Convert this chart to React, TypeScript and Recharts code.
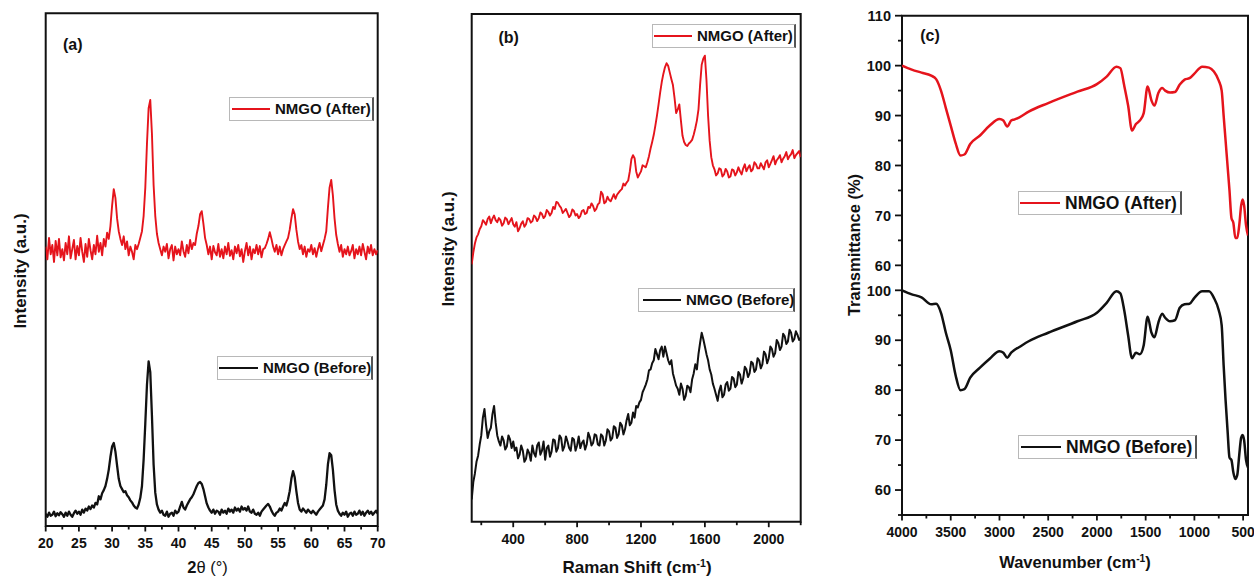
import { LineChart, Line, XAxis, YAxis, ReferenceArea } from 'recharts';

const FONT = '"Liberation Sans", Arial, Helvetica, sans-serif';
const RED = '#e5141c';
const INK = '#111';

// (a) XRD, 2θ from 20° to 70° in 0.25° steps (a.u.)
const xrdStart = 20;
const xrdStep = 0.25;
const xrdAfter = [
  545, 520, 562, 530, 548, 515, 556, 528, 560, 524, 540, 518, 552, 530, 565, 522,
  540, 558, 520, 546, 528, 562, 535, 515, 550, 525, 560, 538, 520, 548, 530, 566,
  535, 552, 528, 560, 545, 572, 560, 585, 625, 657, 640, 600, 575, 560, 548, 565,
  540, 555, 528, 545, 535, 520, 548, 540, 550, 562, 575, 605, 660, 745, 815, 831,
  765, 665, 605, 570, 552, 540, 528, 545, 535, 550, 522, 540, 548, 518, 545, 530,
  540, 528, 555, 536, 525, 548, 532, 558, 540, 552, 548, 570, 585, 608, 614, 590,
  562, 548, 530, 545, 520, 546, 534, 528, 550, 525, 540, 522, 545, 530, 552, 527,
  538, 520, 545, 532, 548, 526, 540, 515, 536, 552, 528, 545, 520, 540, 532, 548,
  530, 546, 524, 540, 542, 550, 560, 573, 560, 545, 535, 548, 530, 545, 528, 540,
  548, 555, 562, 578, 600, 618, 608, 578, 555, 540, 548, 530, 545, 525, 540, 535,
  548, 530, 542, 525, 540, 552, 536, 548, 560, 575, 620, 660, 675, 645, 600, 568,
  550, 535, 548, 525, 540, 530, 545, 528, 536, 548, 522, 540, 530, 545, 528, 550,
  535, 520, 545, 532, 548, 528, 540, 530, 538,
];
const xrdBefore = [
  24, 18, 26, 20, 22, 28, 19, 25, 21, 27, 23, 18, 26, 20, 28, 22,
  18, 25, 30, 24, 28, 22, 32, 26, 34, 30, 38, 33, 40, 36, 45, 42,
  58, 52, 64, 70, 78, 92, 110, 135, 155, 162, 145, 118, 92, 78, 72, 66,
  68, 60, 56, 50, 46, 40, 36, 34, 42, 55, 78, 130, 200, 275, 321, 300,
  215, 120, 65, 42, 32, 26, 30, 22, 20, 28, 18, 24, 26, 20, 30, 25,
  28, 38, 47, 36, 32, 40, 46, 52, 56, 62, 70, 78, 84, 86, 82, 72,
  58, 44, 36, 30, 26, 32, 24, 30, 28, 22, 32, 26, 30, 24, 34, 28,
  32, 26, 36, 30, 34, 28, 38, 32, 35, 30, 38, 28, 26, 32, 24, 22,
  26, 20, 28, 32, 36, 40, 43, 38, 30, 24, 20, 26, 28, 34, 30, 38,
  45, 40, 52, 68, 92, 107, 95, 68, 45, 32, 28, 34, 30, 26, 32, 28,
  25, 30, 26, 22, 28, 32, 36, 40, 52, 80, 120, 142, 138, 110, 70, 42,
  30, 24, 20, 26, 22, 28, 18, 24, 26, 20, 28, 22, 24, 30, 22, 28,
  20, 26, 30, 24, 28, 22, 26, 30, 24,
];
const xrdTicks = [20, 22.5, 25, 27.5, 30, 32.5, 35, 37.5, 40, 42.5, 45, 47.5, 50, 52.5, 55, 57.5, 60, 62.5, 65, 67.5, 70];
const xrdLabels = [20, 25, 30, 35, 40, 45, 50, 55, 60, 65, 70];

// (b) Raman, 140 to 2200 cm-1 in 10 cm-1 steps (a.u.)
const ramanStart = 140;
const ramanStep = 10;
const ramanAfter = [
  507, 530, 548, 560, 566, 576, 582, 594, 590, 585, 596, 601, 588, 597, 603, 594, 590, 598, 594, 583,
  588, 599, 596, 586, 592, 598, 586, 581, 590, 572, 578, 587, 592, 581, 586, 598, 596, 589, 592, 603,
  600, 592, 598, 609, 606, 598, 602, 614, 610, 603, 608, 620, 616, 630, 628, 622, 618, 608, 612, 616,
  608, 600, 604, 615, 612, 603, 606, 598, 602, 612, 614, 606, 608, 620, 618, 627, 622, 612, 616, 625,
  628, 650, 645, 627, 630, 640, 634, 631, 638, 645, 636, 644, 648, 652, 655, 666, 662, 668, 672, 690,
  714, 722, 716, 690, 678, 684, 690, 702, 700, 698, 708, 720, 735, 748, 762, 780, 800, 822, 845, 866,
  882, 895, 903, 898, 885, 872, 860, 835, 805, 812, 822, 790, 760, 748, 742, 740, 745, 748, 752, 762,
  775, 790, 812, 860, 900, 912, 918, 870, 800, 750, 718, 702, 694, 682, 686, 696, 694, 680, 684, 695,
  690, 678, 680, 694, 692, 682, 688, 698, 690, 684, 696, 704, 690, 697, 702, 690, 694, 708, 704, 696,
  696, 706, 700, 694, 708, 712, 698, 705, 712, 720, 704, 712, 716, 722, 708, 715, 720, 728, 714, 720,
  724, 732, 716, 722, 726, 730, 718,
];
const ramanBefore = [
  44, 78, 95, 118, 130, 152, 170, 205, 222, 190, 165, 178, 185, 212, 228, 195, 170, 158, 150, 168,
  160, 142, 148, 170, 162, 145, 158, 140, 146, 125, 132, 150, 140, 118, 124, 142, 135, 120, 150, 135,
  128, 150, 156, 132, 140, 158, 122, 145, 150, 128, 138, 162, 160, 138, 145, 170, 165, 140, 148, 168,
  158, 145, 140, 165, 162, 140, 150, 168, 145, 155, 160, 142, 152, 175, 166, 150, 155, 172, 170, 152,
  150, 172, 168, 150, 160, 182, 178, 160, 165, 188, 185, 165, 172, 195, 190, 172, 182, 200, 212, 190,
  195, 215, 205, 228, 225, 235, 240, 255, 262, 270, 280, 298, 300, 312, 318, 340, 330, 320, 338, 345,
  325, 345, 332, 318, 310, 318, 292, 280, 268, 262, 250, 272, 262, 240, 248, 268, 265, 255, 280, 292,
  310, 300, 330, 352, 372, 360, 345, 330, 318, 300, 290, 272, 262, 250, 238, 258, 268, 245, 250, 270,
  275, 258, 262, 285, 282, 265, 270, 295, 290, 272, 282, 305, 300, 285, 292, 315, 312, 295, 300, 322,
  318, 302, 310, 335, 330, 312, 322, 345, 340, 325, 332, 358, 352, 338, 345, 370, 365, 350, 355, 378,
  372, 355, 360, 375, 368, 358, 362,
];
const ramanTicks = [200, 400, 600, 800, 1000, 1200, 1400, 1600, 1800, 2000, 2200];
const ramanLabels = [400, 800, 1200, 1600, 2000];

// (c) FTIR, transmittance (%)
const wavenumbers = [
  4000, 3900, 3800, 3700, 3650, 3600, 3550, 3500, 3450, 3400,
  3360, 3300, 3200, 3100, 3000, 2960, 2920, 2880, 2850, 2800,
  2700, 2500, 2200, 2000, 1900, 1800, 1760, 1720, 1680, 1640,
  1600, 1560, 1520, 1480, 1440, 1410, 1370, 1330, 1300, 1250,
  1200, 1150, 1100, 1050, 1000, 920, 850, 800, 750, 720,
  700, 680, 660, 640, 620, 600, 580, 560, 540, 520,
  505, 490, 470, 450,
];
const ftirAfter = [
  100, 99.2, 98.6, 98, 97.3, 95, 91.5, 88, 84.5, 82,
  82.2, 84.3, 86, 88, 89.3, 89, 87.8, 89, 89.2, 89.6,
  90.8, 92.5, 94.8, 96.3, 97.8, 99.8, 99.5, 96, 92, 87,
  88.3, 89, 90.5, 95.8, 93, 92, 94.5, 95.5, 95, 94.6,
  94.7, 96.2, 97.2, 97.5, 98.4, 99.8, 99.6, 98.8, 97, 95,
  90, 85, 80, 75, 69.5, 68.5, 65.5, 65.5, 68, 72,
  73.2, 72, 68, 66,
];
const ftirBefore = [
  100, 99.2, 98.6, 97.2, 97.3, 95.5, 91.5, 88, 83, 80,
  80.2, 82.5, 84.5, 86.3, 87.8, 87.5, 86.5, 87.5, 88, 88.6,
  89.8, 91.5, 93.8, 95.5, 97.5, 99.8, 99.4, 96, 91, 86.4,
  87.5, 87.2, 89, 94.7, 91.5, 90.6, 93.5, 95.3, 94.5, 93.8,
  94, 96.5, 97.2, 97.3, 98.5, 99.8, 99.8, 98.5, 96, 93,
  85, 78, 72, 66.5, 66, 63.5, 62.2, 63, 67, 70.5,
  71, 70, 66, 64.5,
];
// the "after" trace sits on a second, stacked 60-110 scale
const FTIR_OFFSET = 45;
const ftirXTicks = [4000, 3750, 3500, 3250, 3000, 2750, 2500, 2250, 2000, 1750, 1500, 1250, 1000, 750, 500];
const ftirXLabels = [4000, 3500, 3000, 2500, 2000, 1500, 1000, 500];
const ftirYTicks = [55, 60, 65, 70, 75, 80, 85, 90, 95, 100, 105, 110, 115, 120, 125, 130, 135, 140, 145, 150, 155];

const xrdData = xrdAfter.map((v, i) => ({ x: xrdStart + i * xrdStep, after: v, before: xrdBefore[i] }));
const ramanData = ramanAfter.map((v, i) => ({ x: ramanStart + i * ramanStep, after: v, before: ramanBefore[i] }));
const ftirData = wavenumbers.map((w, i) => ({ x: w, after: ftirAfter[i] + FTIR_OFFSET, before: ftirBefore[i] }));

const bottomTick = (labels: number[], fontSize: number, gap: number) => (props: any) => {
  const { x, y, payload } = props;
  const major = labels.includes(payload.value);
  return (
    <g>
      <line x1={x} x2={x} y1={y} y2={y + (major ? 5.5 : 3.5)} stroke={INK} strokeWidth={1.8} />
      {major && (
        <text x={x} y={y + gap} textAnchor="middle" fontFamily={FONT} fontSize={fontSize} fontWeight={700} fill={INK}>
          {payload.value}
        </text>
      )}
    </g>
  );
};

const ftirLeftTick = (props: any) => {
  const { x, y, payload } = props;
  const shown = payload.value > 102 ? payload.value - FTIR_OFFSET : payload.value;
  const major = shown % 10 === 0;
  return (
    <g>
      <line x1={x - (major ? 7 : 4)} x2={x} y1={y} y2={y} stroke={INK} strokeWidth={1.8} />
      {major && (
        <text x={x - 11} y={y} dy="0.36em" textAnchor="end" fontFamily={FONT} fontSize={14.5} fontWeight={700} fill={INK}>
          {shown}
        </text>
      )}
    </g>
  );
};

const Caption = ({ x, y, size, rotate, children }: any) => (
  <div
    style={{
      position: 'absolute',
      left: x,
      top: y,
      transform: `translate(-50%, -50%)${rotate ? ' rotate(-90deg)' : ''}`,
      whiteSpace: 'nowrap',
      fontFamily: FONT,
      fontSize: size,
      fontWeight: 700,
      lineHeight: 1,
      color: INK,
    }}
  >
    {children}
  </div>
);

const Sup = ({ children }: any) => (
  <span style={{ fontSize: '0.62em', position: 'relative', top: '-0.55em' }}>{children}</span>
);

const LegendBox = ({ left, top, width, color, lineLen, lineAt, size, label }: any) => (
  <div
    style={{
      position: 'absolute',
      left,
      top,
      width,
      height: 24,
      boxSizing: 'border-box',
      border: '1px solid #b8b8b8',
      borderRight: '2px solid #555',
      background: '#fff',
    }}
  >
    <div style={{ position: 'absolute', left: lineAt, top: 10, width: lineLen, height: 2.4, background: color }} />
    <div
      style={{
        position: 'absolute',
        left: lineAt + lineLen + 5,
        top: 0,
        lineHeight: '22px',
        fontFamily: FONT,
        fontSize: size,
        fontWeight: 700,
        color: INK,
        whiteSpace: 'nowrap',
      }}
    >
      {label}
    </div>
  </div>
);

export default function App() {
  return (
    <div style={{ position: 'absolute', left: 0, top: 0, width: 1254, height: 580, background: '#fff', overflow: 'hidden' }}>
      {/* (a) XRD */}
      <div style={{ position: 'absolute', left: 0, top: 0 }}>
        <LineChart width={420} height={580} data={xrdData} margin={{ top: 13.3, right: 42.3, bottom: 24, left: 5.7 }}>
          <XAxis
            dataKey="x"
            type="number"
            domain={[20, 70]}
            allowDataOverflow
            ticks={xrdTicks}
            interval={0}
            height={30}
            axisLine={false}
            tickLine={false}
            tickSize={0}
            tickMargin={0}
            tick={bottomTick(xrdLabels, 14, 21.5)}
          />
          <YAxis type="number" domain={[0, 1000]} allowDataOverflow width={40} tick={false} tickLine={false} axisLine={false} />
          <Line dataKey="after" type="linear" stroke={RED} strokeWidth={1.9} dot={false} strokeLinejoin="round" isAnimationActive={false} />
          <Line dataKey="before" type="linear" stroke={INK} strokeWidth={2.3} dot={false} strokeLinejoin="round" isAnimationActive={false} />
          <ReferenceArea x1={20} x2={70} y1={0} y2={1000} fill="none" fillOpacity={0} stroke={INK} strokeWidth={2} ifOverflow="visible" />
        </LineChart>
      </div>

      {/* (b) Raman */}
      <div style={{ position: 'absolute', left: 420, top: 0 }}>
        <LineChart width={400} height={580} data={ramanData} margin={{ top: 14, right: 19.3, bottom: 23.3, left: 6.7 }}>
          <XAxis
            dataKey="x"
            type="number"
            domain={[140, 2200]}
            allowDataOverflow
            ticks={ramanTicks}
            interval={0}
            height={35}
            axisLine={false}
            tickLine={false}
            tickSize={0}
            tickMargin={0}
            tick={bottomTick(ramanLabels, 14, 22.5)}
          />
          <YAxis type="number" domain={[0, 1000]} allowDataOverflow width={45} tick={false} tickLine={false} axisLine={false} />
          <Line dataKey="after" type="linear" stroke={RED} strokeWidth={1.9} dot={false} strokeLinejoin="round" isAnimationActive={false} />
          <Line dataKey="before" type="linear" stroke={INK} strokeWidth={2} dot={false} strokeLinejoin="round" isAnimationActive={false} />
          <ReferenceArea x1={140} x2={2200} y1={0} y2={1000} fill="none" fillOpacity={0} stroke={INK} strokeWidth={2} ifOverflow="visible" />
        </LineChart>
      </div>

      {/* (c) FTIR */}
      <div style={{ position: 'absolute', left: 820, top: 0 }}>
        <LineChart width={434} height={580} data={ftirData} margin={{ top: 15.7, right: 6, bottom: 25, left: 22 }}>
          <XAxis
            dataKey="x"
            type="number"
            domain={[450, 4000]}
            reversed
            allowDataOverflow
            ticks={ftirXTicks}
            interval={0}
            height={40}
            axisLine={false}
            tickLine={false}
            tickSize={0}
            tickMargin={0}
            tick={bottomTick(ftirXLabels, 14, 22)}
          />
          <YAxis
            type="number"
            domain={[55, 155]}
            allowDataOverflow
            ticks={ftirYTicks}
            interval={0}
            width={60}
            axisLine={false}
            tickLine={false}
            tickSize={0}
            tickMargin={0}
            tick={ftirLeftTick}
          />
          <Line dataKey="after" type="monotone" stroke={RED} strokeWidth={2.5} dot={false} isAnimationActive={false} />
          <Line dataKey="before" type="monotone" stroke={INK} strokeWidth={2.5} dot={false} isAnimationActive={false} />
          <ReferenceArea x1={4000} x2={450} y1={55} y2={155} fill="none" fillOpacity={0} stroke={INK} strokeWidth={2} ifOverflow="visible" />
        </LineChart>
      </div>

      {/* panel letters */}
      <Caption x={72.7} y={44.7} size={16}>(a)</Caption>
      <Caption x={508.7} y={38} size={16}>(b)</Caption>
      <Caption x={930} y={35.5} size={16}>(c)</Caption>

      {/* axis titles */}
      <Caption x={207.5} y={567} size={16.5}>
        2<span style={{ fontWeight: 400 }}>θ (°)</span>
      </Caption>
      <Caption x={20} y={270.5} size={17} rotate>Intensity (a.u.)</Caption>
      <Caption x={637} y={567} size={17}>
        Raman Shift (cm<Sup>-1</Sup>)
      </Caption>
      <Caption x={447.5} y={249} size={17} rotate>Intensity (a.u.)</Caption>
      <Caption x={1075} y={562} size={16.5}>
        Wavenumber (cm<Sup>-1</Sup>)
      </Caption>
      <Caption x={854} y={245} size={16.5} rotate>Transmittance (%)</Caption>

      {/* legends */}
      <LegendBox left={229} top={97} width={145} color={RED} lineAt={2} lineLen={38} size={15} label="NMGO (After)" />
      <LegendBox left={217} top={356} width={156} color={INK} lineAt={1} lineLen={39} size={15} label="NMGO (Before)" />
      <LegendBox left={652} top={24} width={144} color={RED} lineAt={1} lineLen={38} size={15} label="NMGO (After)" />
      <LegendBox left={638} top={288} width={157} color={INK} lineAt={4} lineLen={38} size={15} label="NMGO (Before)" />
      <LegendBox left={1018} top={191} width={164} color={RED} lineAt={1} lineLen={40} size={17.5} label="NMGO (After)" />
      <LegendBox left={1018} top={435} width={179} color={INK} lineAt={2} lineLen={40} size={17.5} label="NMGO (Before)" />
    </div>
  );
}
